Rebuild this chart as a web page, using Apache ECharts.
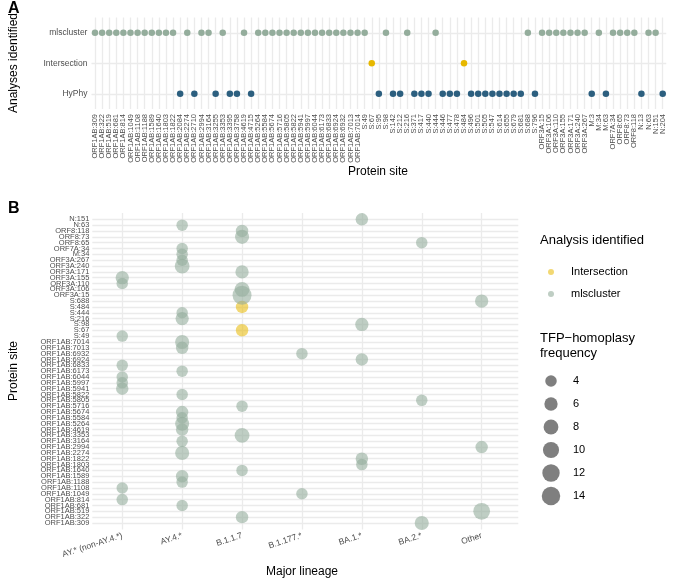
<!DOCTYPE html>
<html><head><meta charset="utf-8">
<script src="https://cdn.jsdelivr.net/npm/echarts@6/dist/echarts.min.js"></script>
<style>html,body{margin:0;padding:0;background:#fff}#c{width:673px;height:582px}</style>
</head><body><div id="c"></div><script>
// ---------- Panel A data ----------
const sitesA = ['ORF1AB:309','ORF1AB:322','ORF1AB:519','ORF1AB:681','ORF1AB:814','ORF1AB:1049','ORF1AB:1108','ORF1AB:1188','ORF1AB:1589','ORF1AB:1640','ORF1AB:1803','ORF1AB:1822','ORF1AB:2084','ORF1AB:2274','ORF1AB:2710','ORF1AB:2994','ORF1AB:3164','ORF1AB:3255','ORF1AB:3353','ORF1AB:3395','ORF1AB:3758','ORF1AB:4619','ORF1AB:4715','ORF1AB:5264','ORF1AB:5584','ORF1AB:5674','ORF1AB:5716','ORF1AB:5805','ORF1AB:5822','ORF1AB:5941','ORF1AB:5997','ORF1AB:6044','ORF1AB:6173','ORF1AB:6833','ORF1AB:6924','ORF1AB:6932','ORF1AB:7013','ORF1AB:7014','S:49','S:67','S:95','S:98','S:142','S:212','S:216','S:371','S:417','S:440','S:444','S:446','S:477','S:478','S:484','S:496','S:501','S:505','S:547','S:614','S:655','S:679','S:681','S:688','S:796','ORF3A:15','ORF3A:106','ORF3A:110','ORF3A:155','ORF3A:171','ORF3A:240','ORF3A:267','M:3','M:34','M:63','ORF7A:34','ORF8:65','ORF8:73','ORF8:118','N:13','N:63','N:151','N:204'];
const analysesA = ['HyPhy','Intersection','mlscluster'];
const mlsSitesA = ['ORF1AB:309','ORF1AB:322','ORF1AB:519','ORF1AB:681','ORF1AB:814','ORF1AB:1049','ORF1AB:1108','ORF1AB:1188','ORF1AB:1589','ORF1AB:1640','ORF1AB:1803','ORF1AB:1822','ORF1AB:2274','ORF1AB:2994','ORF1AB:3164','ORF1AB:3353','ORF1AB:4619','ORF1AB:5264','ORF1AB:5584','ORF1AB:5674','ORF1AB:5716','ORF1AB:5805','ORF1AB:5822','ORF1AB:5941','ORF1AB:5997','ORF1AB:6044','ORF1AB:6173','ORF1AB:6833','ORF1AB:6924','ORF1AB:6932','ORF1AB:7013','ORF1AB:7014','S:49','S:98','S:216','S:444','S:688','ORF3A:15','ORF3A:106','ORF3A:110','ORF3A:155','ORF3A:171','ORF3A:240','ORF3A:267','M:34','ORF7A:34','ORF8:65','ORF8:73','ORF8:118','N:63','N:151'];
const interSitesA = ['S:67','S:484'];
const hyphySitesA = ['ORF1AB:2084','ORF1AB:2710','ORF1AB:3255','ORF1AB:3395','ORF1AB:3758','ORF1AB:4715','S:95','S:142','S:212','S:371','S:417','S:440','S:446','S:477','S:478','S:496','S:501','S:505','S:547','S:614','S:655','S:679','S:681','S:796','M:3','M:63','N:13','N:204'];

// ---------- Panel B data ----------
const lineages = ['AY.* (non-AY.4.*)','AY.4.*','B.1.1.7','B.1.177.*','BA.1.*','BA.2.*','Other'];
const sitesB = ['ORF1AB:309','ORF1AB:322','ORF1AB:519','ORF1AB:681','ORF1AB:814','ORF1AB:1049','ORF1AB:1108','ORF1AB:1188','ORF1AB:1589','ORF1AB:1640','ORF1AB:1803','ORF1AB:1822','ORF1AB:2274','ORF1AB:2994','ORF1AB:3164','ORF1AB:3353','ORF1AB:4619','ORF1AB:5264','ORF1AB:5584','ORF1AB:5674','ORF1AB:5716','ORF1AB:5805','ORF1AB:5822','ORF1AB:5941','ORF1AB:5997','ORF1AB:6044','ORF1AB:6173','ORF1AB:6833','ORF1AB:6924','ORF1AB:6932','ORF1AB:7013','ORF1AB:7014','S:49','S:67','S:98','S:216','S:444','S:484','S:688','ORF3A:15','ORF3A:106','ORF3A:110','ORF3A:155','ORF3A:171','ORF3A:240','ORF3A:267','M:34','ORF7A:34','ORF8:65','ORF8:73','ORF8:118','N:63','N:151'];
// [lineage, site, TFP-homoplasy frequency]
const mlsB = [
 ['BA.1.*','N:151',5],['AY.4.*','N:63',4],['B.1.1.7','ORF8:118',5],['B.1.1.7','ORF8:73',7],
 ['BA.2.*','ORF8:65',4],['AY.4.*','ORF7A:34',4],['AY.4.*','M:34',4],['AY.4.*','ORF3A:267',4],
 ['AY.4.*','ORF3A:240',8],['B.1.1.7','ORF3A:171',6],['AY.* (non-AY.4.*)','ORF3A:155',6],['AY.* (non-AY.4.*)','ORF3A:110',4],
 ['B.1.1.7','ORF3A:106',8],['B.1.1.7','ORF3A:15',15],['Other','S:688',6],['AY.4.*','S:444',4],
 ['AY.4.*','S:216',6],['BA.1.*','S:98',6],['AY.* (non-AY.4.*)','S:49',4],['AY.4.*','ORF1AB:7014',7],
 ['AY.4.*','ORF1AB:7013',5],['B.1.177.*','ORF1AB:6932',4],['BA.1.*','ORF1AB:6924',5],['AY.* (non-AY.4.*)','ORF1AB:6833',4],
 ['AY.4.*','ORF1AB:6173',4],['AY.* (non-AY.4.*)','ORF1AB:6044',4],['AY.* (non-AY.4.*)','ORF1AB:5997',4],['AY.* (non-AY.4.*)','ORF1AB:5941',5],
 ['AY.4.*','ORF1AB:5822',4],['BA.2.*','ORF1AB:5805',4],['B.1.1.7','ORF1AB:5716',4],['AY.4.*','ORF1AB:5674',5],
 ['AY.4.*','ORF1AB:5584',4],['AY.4.*','ORF1AB:5264',7],['AY.4.*','ORF1AB:4619',5],['B.1.1.7','ORF1AB:3353',8],
 ['AY.4.*','ORF1AB:3164',4],['Other','ORF1AB:2994',5],['AY.4.*','ORF1AB:2274',7],['BA.1.*','ORF1AB:1822',5],
 ['BA.1.*','ORF1AB:1803',4],['B.1.1.7','ORF1AB:1640',4],['AY.4.*','ORF1AB:1589',5],['AY.4.*','ORF1AB:1188',4],
 ['AY.* (non-AY.4.*)','ORF1AB:1108',4],['B.1.177.*','ORF1AB:1049',4],['AY.* (non-AY.4.*)','ORF1AB:814',4],['AY.4.*','ORF1AB:681',4],
 ['Other','ORF1AB:519',11],['B.1.1.7','ORF1AB:322',5],['BA.2.*','ORF1AB:309',7]
];
const interB = [['B.1.1.7','S:484',5],['B.1.1.7','S:67',5]];
const sizeBreaks = [4,6,8,10,12,14];

// ---------- styling ----------
const FONT = '"Liberation Sans", Arial, sans-serif';
const GRID = '#ebebeb', TXT = '#4d4d4d';
const C_MLS = '#94ad9c', C_INT = '#e7b800', C_HYP = '#2c5f7f';
function sz(v){ return 3.5 + 4.0*Math.sqrt(v); }

const gA = {left:91.45, top:17.5, width:574.8, height:91.5};
const gB = {left:92.3, top:216.4, width:419.3, height:309.5};
const gL = {left:541, top:369.5, width:20, height:138};

const chart = echarts.init(document.getElementById('c'));
chart.setOption({
 animation:false,
 textStyle:{fontFamily:FONT},
 grid:[gA,gB,gL],
 xAxis:[
  {gridIndex:0,type:'category',data:sitesA,axisLine:{show:false},splitLine:{show:false},
   axisTick:{show:true,inside:true,alignWithLabel:true,length:gA.height,lineStyle:{color:GRID,width:1.3}},
   axisLabel:{rotate:90,interval:0,fontSize:7.5,color:TXT,margin:5,fontFamily:FONT}},
  {gridIndex:1,type:'category',data:lineages,axisLine:{show:false},splitLine:{show:false},offset:3.5,
   axisTick:{show:true,inside:true,alignWithLabel:true,length:gB.height+7,lineStyle:{color:GRID,width:1.3}},
   axisLabel:{rotate:18,interval:0,fontSize:8.5,color:TXT,margin:6,fontFamily:FONT}},
  {gridIndex:2,type:'category',data:['k'],show:false}
 ],
 yAxis:[
  {gridIndex:0,type:'category',data:analysesA,axisLine:{show:false},splitLine:{show:false},
   axisTick:{show:true,inside:true,alignWithLabel:true,length:gA.width,lineStyle:{color:GRID,width:1.3}},
   axisLabel:{fontSize:8.5,color:TXT,margin:4,fontFamily:FONT}},
  {gridIndex:1,type:'category',data:sitesB,axisLine:{show:false},splitLine:{show:false},
   axisTick:{show:true,inside:true,alignWithLabel:true,length:426,lineStyle:{color:GRID,width:1.3}},
   axisLabel:{fontSize:7.5,interval:0,color:TXT,margin:3,fontFamily:FONT}},
  {gridIndex:2,type:'category',data:sizeBreaks.map(String),inverse:true,position:'right',
   axisLine:{show:false},axisTick:{show:false},splitLine:{show:false},
   axisLabel:{fontSize:11,color:'#000',margin:12,align:'left',fontFamily:FONT}}
 ],
 legend:{data:['Intersection','mlscluster'],orient:'vertical',left:543,top:260,icon:'circle',
   itemWidth:30,itemHeight:6,itemGap:8,textStyle:{fontSize:11,color:'#000',lineHeight:14,fontFamily:FONT},
   selectedMode:false},
 series:[
  {name:'A-mls',type:'scatter',xAxisIndex:0,yAxisIndex:0,symbolSize:6.5,itemStyle:{color:C_MLS,opacity:1},
   data:mlsSitesA.map(s=>[s,'mlscluster'])},
  {name:'A-int',type:'scatter',xAxisIndex:0,yAxisIndex:0,symbolSize:6.5,itemStyle:{color:C_INT,opacity:1},
   data:interSitesA.map(s=>[s,'Intersection'])},
  {name:'A-hyp',type:'scatter',xAxisIndex:0,yAxisIndex:0,symbolSize:6.5,itemStyle:{color:C_HYP,opacity:1},
   data:hyphySitesA.map(s=>[s,'HyPhy'])},
  {name:'Intersection',type:'scatter',xAxisIndex:1,yAxisIndex:1,symbolSize:v=>sz(v[2]),
   itemStyle:{color:C_INT,opacity:0.55},data:interB},
  {name:'mlscluster',type:'scatter',xAxisIndex:1,yAxisIndex:1,symbolSize:v=>sz(v[2]),
   itemStyle:{color:C_MLS,opacity:0.6},data:mlsB},
  {name:'sizeLegend',type:'scatter',xAxisIndex:2,yAxisIndex:2,symbolSize:v=>sz(Number(v[1])),
   itemStyle:{color:'#7f7f7f',opacity:1},data:sizeBreaks.map(b=>['k',String(b)])}
 ],
 graphic:[
  {type:'text',left:8,top:1,style:{text:'A',font:'bold 16px '+FONT,fill:'#000'}},
  {type:'text',left:8,top:201,style:{text:'B',font:'bold 16px '+FONT,fill:'#000'}},
  {type:'text',x:14,y:63,rotation:Math.PI/2,style:{text:'Analyses identified',font:'12px '+FONT,fill:'#000',textAlign:'center',textVerticalAlign:'middle'}},
  {type:'text',x:378,y:172,style:{text:'Protein site',font:'12px '+FONT,fill:'#000',textAlign:'center',textVerticalAlign:'middle'}},
  {type:'text',x:14,y:371,rotation:Math.PI/2,style:{text:'Protein site',font:'12px '+FONT,fill:'#000',textAlign:'center',textVerticalAlign:'middle'}},
  {type:'text',x:302,y:572,style:{text:'Major lineage',font:'12px '+FONT,fill:'#000',textAlign:'center',textVerticalAlign:'middle'}},
  {type:'text',x:540,y:240,style:{text:'Analysis identified',font:'13px '+FONT,fill:'#000',textAlign:'left',textVerticalAlign:'middle'}},
  {type:'text',x:540,y:338,style:{text:'TFP\u2212homoplasy',font:'13px '+FONT,fill:'#000',textAlign:'left',textVerticalAlign:'middle'}},
  {type:'text',x:540,y:353,style:{text:'frequency',font:'13px '+FONT,fill:'#000',textAlign:'left',textVerticalAlign:'middle'}}
 ]
});
</script></body></html>
